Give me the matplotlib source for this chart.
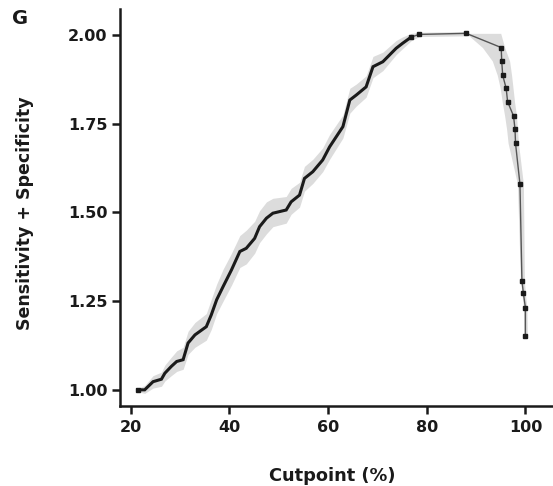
import numpy as np
import matplotlib.pyplot as plt

plt.rcParams['font.family'] = ['DejaVu Sans']
plt.rcParams['font.weight'] = 'bold'

# rising part: cutpoint (%) vs sensitivity + specificity, with band
cut_up = [21.4, 22.8, 24.5, 26.2, 26.9, 28.2, 29.3, 30.6, 31.6, 33.0,
          35.3, 36.3, 37.4, 38.7, 40.4, 42.1, 43.4, 45.1, 46.1, 47.5,
          48.8, 51.5, 52.5, 54.2, 55.2, 56.9, 58.9, 60.3, 63.0, 64.4,
          65.7, 67.7, 69.1, 71.1, 73.8, 75.1, 76.9, 78.5, 88.0]
ss_up = [1.000, 1.000, 1.023, 1.030, 1.047, 1.066, 1.080, 1.085, 1.132, 1.155,
         1.178, 1.211, 1.254, 1.291, 1.338, 1.390, 1.399, 1.427, 1.460, 1.484,
         1.498, 1.507, 1.530, 1.549, 1.596, 1.615, 1.648, 1.685, 1.742, 1.817,
         1.831, 1.854, 1.911, 1.925, 1.963, 1.977, 1.995, 2.002, 2.005]
lo_up = [0.995, 0.990, 1.005, 1.010, 1.025, 1.040, 1.052, 1.058, 1.100, 1.120,
         1.140, 1.170, 1.215, 1.250, 1.295, 1.345, 1.355, 1.385, 1.415, 1.440,
         1.460, 1.470, 1.495, 1.515, 1.560, 1.582, 1.615, 1.650, 1.710, 1.780,
         1.800, 1.825, 1.880, 1.900, 1.945, 1.962, 1.985, 1.996, 1.998]
hi_up = [1.005, 1.012, 1.040, 1.050, 1.070, 1.092, 1.110, 1.120, 1.165, 1.190,
         1.215, 1.255, 1.298, 1.340, 1.385, 1.435, 1.450, 1.475, 1.505, 1.530,
         1.540, 1.545, 1.568, 1.585, 1.630, 1.650, 1.682, 1.720, 1.775, 1.850,
         1.862, 1.885, 1.940, 1.952, 1.985, 1.995, 2.005, 2.008, 2.010]

# falling part: band is spread along the cutpoint axis
ss_dn = [2.005, 1.965, 1.927, 1.887, 1.850, 1.812, 1.772, 1.734, 1.695,
         1.580, 1.308, 1.272, 1.232, 1.153]
cut_dn = [88.0, 95.1, 95.2, 95.4, 96.1, 96.4, 97.6, 97.9, 98.0,
          98.9, 99.3, 99.6, 100.0, 100.0]
xlo_dn = [88.0, 91.3, 93.3, 94.3, 94.9, 95.3, 95.8, 96.2, 96.5,
          98.4, 99.0, 99.3, 99.6, 99.7]
xhi_dn = [95.0, 95.8, 96.8, 97.2, 97.5, 97.8, 98.2, 98.4, 98.6,
          99.6, 99.8, 100.0, 100.3, 100.4]

xticks = [20, 40, 60, 80, 100]
yticks = [1.00, 1.25, 1.50, 1.75, 2.00]

ink = '#1a1a1a'

fig = plt.figure(figsize=(5.53, 4.86), dpi=100)
ax = fig.add_axes([0.217, 0.165, 0.783, 0.816])

band = '#dcdcdc'
ax.fill_between(cut_up, lo_up, hi_up, color=band, lw=0)
ax.fill_betweenx(ss_dn, xlo_dn, xhi_dn, color=band, lw=0)

# thin connecting line and markers
ax.plot(cut_up[-3:] + cut_dn[1:], ss_up[-3:] + ss_dn[1:], color='#555555', lw=1)
ax.plot(cut_up[:-2], ss_up[:-2], color=ink, lw=2.2, solid_joinstyle='miter')
ax.plot(cut_up[-3:] + cut_dn[1:], ss_up[-3:] + ss_dn[1:], ls='none', marker='s',
        ms=3.2, color=ink)
ax.plot([cut_up[0]], [ss_up[0]], ls='none', marker='s', ms=3.2, color=ink)

ax.set_xlim(17.8, 105.6)
ax.set_ylim(0.955, 2.073)
ax.set_xticks(xticks)
ax.set_xticklabels([str(t) for t in xticks])
ax.set_yticks(yticks)
ax.set_yticklabels(['%.2f' % t for t in yticks])

for s in ['top', 'right']:
    ax.spines[s].set_visible(False)
for s in ['left', 'bottom']:
    ax.spines[s].set_linewidth(1.8)
    ax.spines[s].set_color(ink)
ax.tick_params(axis='both', length=5.5, width=1.8, color=ink,
               labelsize=11.5, labelcolor=ink)
ax.tick_params(axis='x', pad=5)
ax.tick_params(axis='y', pad=3.5)

ax.set_xlabel('Cutpoint (%)', fontsize=12.8, fontweight='bold', color=ink)
ax.set_ylabel('Sensitivity + Specificity', fontsize=12.5, fontweight='bold', color=ink)
ax.xaxis.set_label_coords(0.49, -0.155)
ax.yaxis.set_label_coords(-0.198, 0.486)

fig.text(0.036, 0.961, 'G', fontsize=14, fontweight='bold', color=ink,
         ha='center', va='center')

fig.savefig('out.png', dpi=100)
